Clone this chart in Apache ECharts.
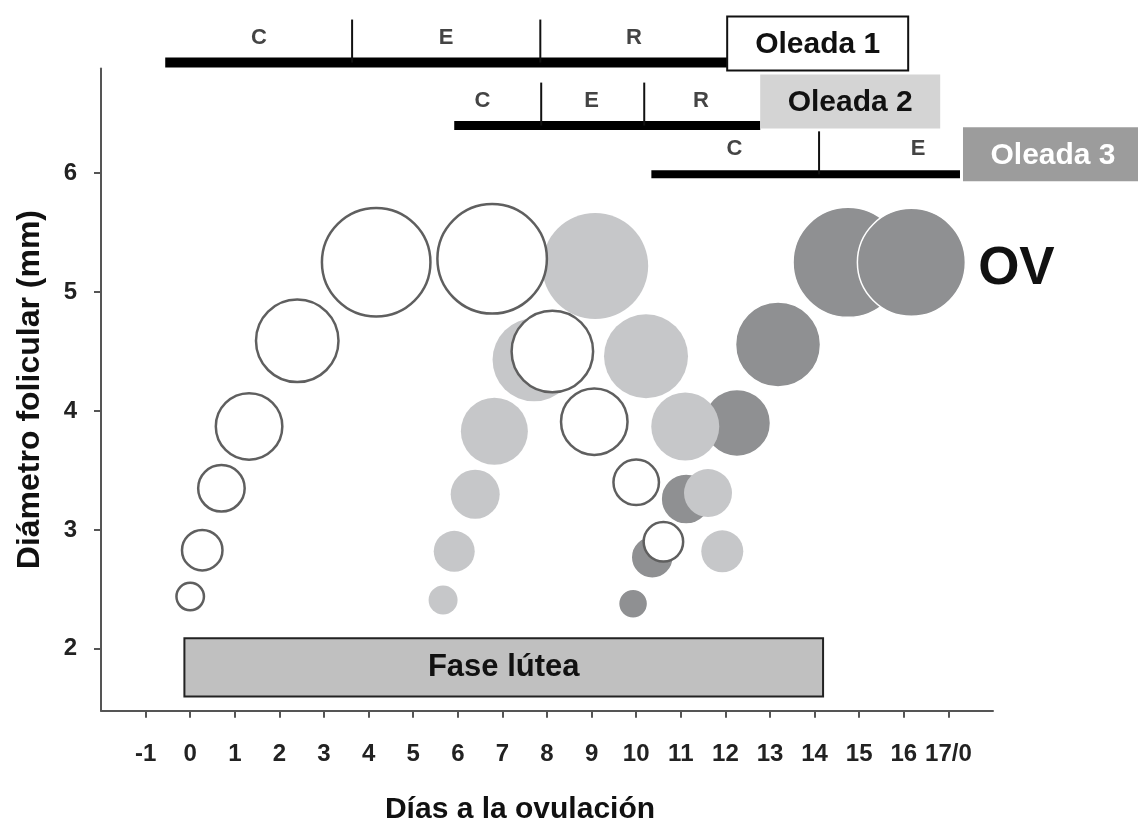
<!DOCTYPE html>
<html><head><meta charset="utf-8">
<script src="https://cdn.jsdelivr.net/npm/echarts@6/dist/echarts.min.js"></script>
<style>html,body{margin:0;padding:0;background:#fff}#chart{width:1138px;height:827px}</style>
</head><body><div id="chart"></div>
<script>
// ---------- data ----------
const wave1X = [0.0, 0.27, 0.70, 1.32, 2.40, 4.17, 6.77, 8.12, 9.06, 10.0, 10.61];
const wave1Y = [2.44, 2.83, 3.35, 3.87, 4.59, 5.25, 5.28, 4.50, 3.91, 3.40, 2.90];
const wave1Size = [30, 43, 49, 69, 85, 111, 112, 84, 69, 48, 42];

const wave2X = [5.67, 5.92, 6.39, 6.82, 7.71, 9.08, 10.22, 11.10, 11.61, 11.93];
const wave2Y = [2.41, 2.82, 3.30, 3.83, 4.43, 5.22, 4.46, 3.87, 3.31, 2.82];
const wave2Size = [29, 41, 49, 67, 83, 106, 84, 68, 48, 42];

const wave3X = [9.93, 10.36, 11.12, 12.26, 13.18, 14.75, 16.17];
const wave3Y = [2.38, 2.77, 3.26, 3.90, 4.56, 5.25, 5.25];
const wave3Size = [29, 42, 50, 67, 85, 110, 108];

const xTickValues = [-1, 0, 1, 2, 3, 4, 5, 6, 7, 8, 9, 10, 11, 12, 13, 14, 15, 16, 17];
const xTickLabels = ['-1', '0', '1', '2', '3', '4', '5', '6', '7', '8', '9', '10', '11', '12', '13', '14', '15', '16', '17/0'];
const yTickValues = [2, 3, 4, 5, 6];

const waveNames = ['Oleada 1', 'Oleada 2', 'Oleada 3'];
const phaseBounds = [[-0.56, 3.63, 7.85, 12.04], [5.92, 7.87, 10.18, 12.78], [10.34, 14.10, 17.26]];
const phaseLabels = [['C', 'E', 'R'], ['C', 'E', 'R'], ['C', 'E']];
const phaseLabelX = [[1.54, 5.74, 9.95], [6.55, 9.0, 11.45], [12.2, 16.32]];
const lutealLabel = 'Fase lútea';
const lutealRange = [-0.13, 14.19];
const ovLabel = 'OV';

// ---------- layout / style (not data) ----------
const FONT = '"Liberation Sans", Arial, sans-serif';
const barLevels = [6.93, 6.40, 5.99];
const barWidths = [10, 9, 8];
const boxStyle = [
  { fill: '#ffffff', stroke: '#111', lw: 2, text: '#111', dx: 0, bottom: 8, w: 181 },
  { fill: '#d4d4d4', stroke: null, lw: 0, text: '#111', dx: 0, bottom: 3, w: 180 },
  { fill: '#9c9c9c', stroke: null, lw: 0, text: '#ffffff', dx: 3, bottom: 7, w: 180 }
];
const BOX_H = 54;

function renderWave(params, api) {
  const i = params.dataIndex;
  const b = phaseBounds[i];
  const y = barLevels[i];
  const p0 = api.coord([b[0], y]);
  const p1 = api.coord([b[b.length - 1], y]);
  const children = [];
  children.push({ type: 'line', shape: { x1: p0[0], y1: p0[1], x2: p1[0], y2: p1[1] },
    style: { stroke: '#000', lineWidth: barWidths[i] } });
  for (let k = 1; k < b.length - 1; k++) {
    const p = api.coord([b[k], y]);
    children.push({ type: 'line', shape: { x1: p[0], y1: p[1], x2: p[0], y2: p[1] - 43 },
      style: { stroke: '#111', lineWidth: 2 } });
  }
  phaseLabels[i].forEach(function (t, k) {
    const p = api.coord([phaseLabelX[i][k], y]);
    children.push({ type: 'text', x: p[0], y: p[1] - 25,
      style: { text: t, fill: '#444', fontSize: 22, fontWeight: 'bold', fontFamily: FONT, align: 'center', verticalAlign: 'middle' } });
  });
  const s = boxStyle[i];
  const bx = p1[0] + s.dx;
  const by = p1[1] + s.bottom - BOX_H;
  children.push({ type: 'rect', shape: { x: bx, y: by, width: s.w, height: BOX_H },
    style: { fill: s.fill, stroke: s.stroke, lineWidth: s.lw } });
  children.push({ type: 'text', x: bx + s.w / 2, y: by + BOX_H / 2 + 1,
    style: { text: waveNames[i], fill: s.text, fontSize: 30, fontWeight: 'bold', fontFamily: FONT, align: 'center', verticalAlign: 'middle' } });
  return { type: 'group', children: children };
}

function renderLuteal(params, api) {
  const a = api.coord([lutealRange[0], 2.09]);
  const b = api.coord([lutealRange[1], 1.60]);
  return { type: 'group', children: [
    { type: 'rect', shape: { x: a[0], y: a[1], width: b[0] - a[0], height: b[1] - a[1] },
      style: { fill: '#c0c0c0', stroke: '#222', lineWidth: 2 } },
    { type: 'text', x: (a[0] + b[0]) / 2, y: (a[1] + b[1]) / 2,
      style: { text: lutealLabel, fill: '#111', fontSize: 31, fontWeight: 'bold', fontFamily: FONT, align: 'center', verticalAlign: 'middle' } }
  ] };
}

function pts(xs, ys, ss) { return xs.map(function (x, i) { return [x, ys[i], ss[i]]; }); }
const w3data = pts(wave3X, wave3Y, wave3Size);
w3data[w3data.length - 1] = {
  value: w3data[w3data.length - 1],
  label: { show: true, formatter: ovLabel, position: 'right', distance: 12, offset: [0, 7],
    fontSize: 53, fontWeight: 'bold', fontFamily: FONT, color: '#111' }
};

const chart = echarts.init(document.getElementById('chart'));
chart.setOption({
  animation: false,
  backgroundColor: '#fff',
  textStyle: { fontFamily: FONT },
  grid: { left: 101, right: 145, top: 68.5, bottom: 116.3, outerBoundsMode: 'none', containLabel: false },
  xAxis: {
    type: 'value', min: -2, max: 18,
    name: 'Días a la ovulación', nameLocation: 'middle', nameGap: 84,
    nameTextStyle: { fontSize: 30, fontWeight: 'bold', color: '#111', fontFamily: FONT, padding: [0, 54, 0, 0] },
    axisLine: { show: true, onZero: false, lineStyle: { color: '#555', width: 2 } },
    axisTick: { show: true, customValues: xTickValues, length: 7, lineStyle: { color: '#555', width: 2 } },
    axisLabel: { customValues: xTickValues, margin: 32, fontSize: 24, fontWeight: 'bold', color: '#222', fontFamily: FONT,
      formatter: function (v) { const k = xTickValues.indexOf(v); return k >= 0 ? xTickLabels[k] : ''; } },
    splitLine: { show: false }
  },
  yAxis: {
    type: 'value', min: 1.48, max: 6.88,
    name: 'Diámetro folicular (mm)', nameLocation: 'middle', nameGap: 55, nameRotate: 90,
    nameTextStyle: { fontSize: 32, fontWeight: 'bold', color: '#111', fontFamily: FONT },
    axisLine: { show: true, onZero: false, lineStyle: { color: '#555', width: 2 } },
    axisTick: { show: true, customValues: yTickValues, length: 7, lineStyle: { color: '#555', width: 2 } },
    axisLabel: { customValues: yTickValues, margin: 24, fontSize: 24, fontWeight: 'bold', color: '#222', fontFamily: FONT },
    splitLine: { show: false }
  },
  series: [
    { type: 'custom', name: 'luteal', renderItem: renderLuteal, data: [[0, 2]], clip: false, silent: true, z: 1 },
    { type: 'scatter', name: 'Oleada 3', data: w3data, symbolSize: function (v) { return v[2]; },
      itemStyle: { color: '#8f9092', opacity: 1, borderColor: '#fff', borderWidth: 1.5 }, emphasis: { disabled: true }, z: 2 },
    { type: 'scatter', name: 'Oleada 2', data: pts(wave2X, wave2Y, wave2Size), symbolSize: function (v) { return v[2]; },
      itemStyle: { color: '#c6c7c9', opacity: 1 }, emphasis: { disabled: true }, z: 3 },
    { type: 'scatter', name: 'Oleada 1', data: pts(wave1X, wave1Y, wave1Size), symbolSize: function (v) { return v[2] - 2.5; },
      itemStyle: { color: '#ffffff', opacity: 1, borderColor: '#5f5f5f', borderWidth: 2.5 }, emphasis: { disabled: true }, z: 4 },
    { type: 'custom', name: 'phases', renderItem: renderWave, data: [[0, 4], [1, 4], [2, 4]], clip: false, silent: true, z: 5 }
  ]
});
</script></body></html>
